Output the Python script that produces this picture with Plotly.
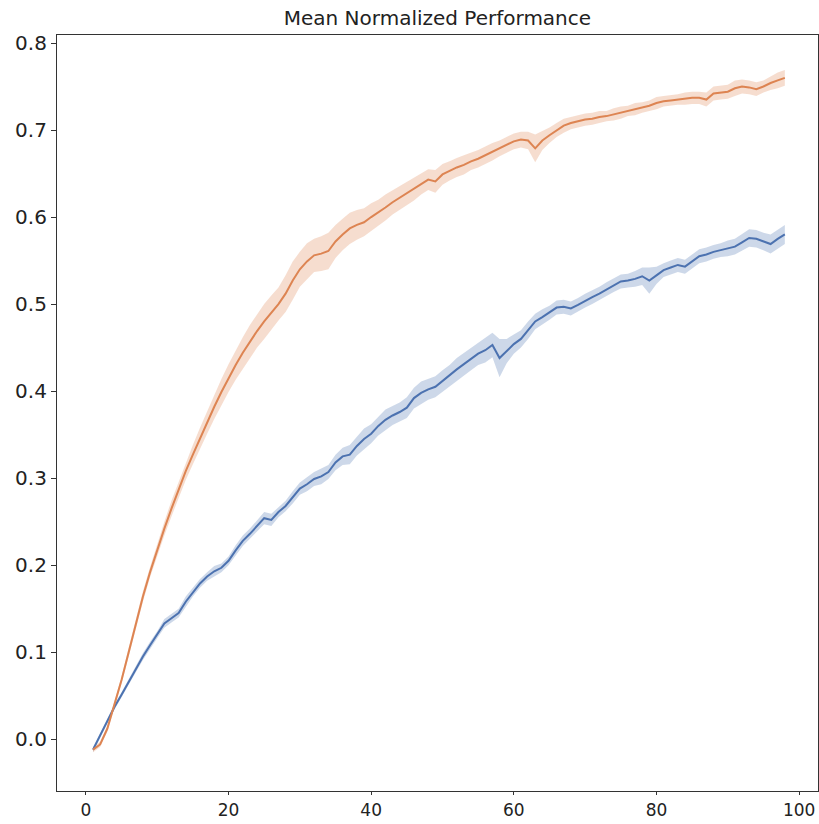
import plotly.graph_objects as go

# Training step (x axis)
steps = list(range(1, 99))

# Orange run: mean normalized performance and spread
orange_mean = [
    -0.012, -0.006, 0.012, 0.040, 0.068, 0.100, 0.133, 0.164, 0.192, 0.218,
    0.242, 0.265, 0.287, 0.308, 0.327, 0.346, 0.364, 0.382, 0.399, 0.415,
    0.430, 0.444, 0.457, 0.469, 0.480, 0.490, 0.500, 0.512, 0.527, 0.540,
    0.549, 0.556, 0.558, 0.561, 0.572, 0.580, 0.587, 0.591, 0.594, 0.600,
    0.605, 0.611, 0.617, 0.622, 0.627, 0.632, 0.638, 0.643, 0.641, 0.649,
    0.653, 0.657, 0.660, 0.664, 0.667, 0.671, 0.675, 0.679, 0.683, 0.687,
    0.689, 0.688, 0.679, 0.688, 0.694, 0.700, 0.705, 0.708, 0.710, 0.712,
    0.713, 0.715, 0.716, 0.718, 0.720, 0.722, 0.724, 0.726, 0.728, 0.731,
    0.733, 0.734, 0.735, 0.736, 0.737, 0.737, 0.735, 0.742, 0.743, 0.744,
    0.748, 0.750, 0.749, 0.747, 0.750, 0.754, 0.757, 0.760,
]
orange_spread = [
    0.003, 0.003, 0.003, 0.003, 0.004, 0.005, 0.005, 0.006, 0.006, 0.007,
    0.008, 0.009, 0.009, 0.010, 0.011, 0.012, 0.013, 0.014, 0.015, 0.016,
    0.017, 0.018, 0.019, 0.019, 0.020, 0.020, 0.019, 0.021, 0.022, 0.020,
    0.021, 0.019, 0.020, 0.021, 0.019, 0.018, 0.018, 0.017, 0.016, 0.016,
    0.015, 0.015, 0.014, 0.014, 0.013, 0.013, 0.012, 0.012, 0.013, 0.012,
    0.011, 0.011, 0.011, 0.010, 0.010, 0.010, 0.010, 0.009, 0.009, 0.009,
    0.009, 0.010, 0.016, 0.011, 0.009, 0.008, 0.008, 0.007, 0.007, 0.007,
    0.007, 0.007, 0.006, 0.007, 0.007, 0.006, 0.007, 0.006, 0.006, 0.007,
    0.006, 0.006, 0.006, 0.007, 0.007, 0.007, 0.008, 0.008, 0.008, 0.008,
    0.009, 0.008, 0.008, 0.008, 0.007, 0.008, 0.009, 0.009,
]

# Blue run: mean normalized performance and spread
blue_mean = [
    -0.012, 0.004, 0.021, 0.037, 0.051, 0.066, 0.080, 0.095, 0.108, 0.120,
    0.133, 0.139, 0.145, 0.158, 0.169, 0.179, 0.187, 0.193, 0.197, 0.205,
    0.217, 0.228, 0.236, 0.245, 0.254, 0.252, 0.261, 0.268, 0.278, 0.288,
    0.293, 0.299, 0.302, 0.307, 0.318, 0.325, 0.327, 0.337, 0.345, 0.351,
    0.360, 0.367, 0.372, 0.376, 0.381, 0.392, 0.398, 0.402, 0.405, 0.412,
    0.418, 0.425, 0.431, 0.437, 0.443, 0.447, 0.453, 0.438, 0.446, 0.454,
    0.460, 0.470, 0.480, 0.485, 0.490, 0.496, 0.497, 0.495, 0.499, 0.504,
    0.508, 0.512, 0.517, 0.522, 0.526, 0.527, 0.529, 0.532, 0.527, 0.533,
    0.539, 0.542, 0.545, 0.543, 0.549, 0.555, 0.557, 0.560, 0.562, 0.564,
    0.566, 0.571, 0.576, 0.575, 0.572, 0.569, 0.575, 0.580,
]
blue_spread = [
    0.003, 0.003, 0.003, 0.003, 0.003, 0.003, 0.003, 0.004, 0.004, 0.004,
    0.005, 0.005, 0.005, 0.006, 0.005, 0.005, 0.005, 0.006, 0.005, 0.005,
    0.006, 0.006, 0.006, 0.006, 0.007, 0.007, 0.006, 0.006, 0.007, 0.007,
    0.008, 0.008, 0.009, 0.008, 0.009, 0.010, 0.011, 0.011, 0.012, 0.011,
    0.011, 0.012, 0.011, 0.011, 0.012, 0.012, 0.013, 0.012, 0.012, 0.012,
    0.012, 0.013, 0.013, 0.013, 0.013, 0.014, 0.014, 0.022, 0.014, 0.011,
    0.010, 0.010, 0.009, 0.009, 0.008, 0.008, 0.008, 0.008, 0.008, 0.008,
    0.008, 0.008, 0.008, 0.008, 0.008, 0.008, 0.009, 0.010, 0.015, 0.010,
    0.008, 0.008, 0.008, 0.008, 0.008, 0.008, 0.008, 0.008, 0.008, 0.009,
    0.009, 0.010, 0.010, 0.010, 0.010, 0.011, 0.011, 0.011,
]

x_ticks = [0, 20, 40, 60, 80, 100]
y_ticks = [0.0, 0.1, 0.2, 0.3, 0.4, 0.5, 0.6, 0.7, 0.8]

series = [
    (blue_mean, blue_spread, "#4c72b0", "rgba(76,114,176,0.28)"),
    (orange_mean, orange_spread, "#dd8452", "rgba(221,132,82,0.28)"),
]

fig = go.Figure()
for mean, spread, line_color, fill_color in series:
    upper = [m + s for m, s in zip(mean, spread)]
    lower = [m - s for m, s in zip(mean, spread)]
    fig.add_trace(go.Scatter(
        x=steps + steps[::-1], y=upper + lower[::-1],
        fill="toself", fillcolor=fill_color, line=dict(width=0),
        mode="lines", hoverinfo="skip", showlegend=False,
    ))
for mean, spread, line_color, fill_color in series:
    fig.add_trace(go.Scatter(
        x=steps, y=mean, mode="lines",
        line=dict(color=line_color, width=2), showlegend=False,
    ))

axis_common = dict(
    showline=True, linecolor="#333333", linewidth=1.2, mirror=True,
    showgrid=False, zeroline=False, automargin=False,
    ticks="outside", tickwidth=1, tickcolor="#333333",
)

fig.update_layout(
    width=819, height=824,
    margin=dict(l=57, r=1, t=35, b=33),
    paper_bgcolor="white", plot_bgcolor="white",
    title=dict(
        text="Mean Normalized Performance",
        x=0.5341, xanchor="center", y=0.978, yanchor="middle",
        font=dict(family="DejaVu Sans", size=20, color="#222222"),
    ),
    xaxis=dict(range=[-4.05, 102.65], tickvals=x_ticks, ticklen=3,
               tickfont=dict(family="DejaVu Sans", size=17, color="#222222"),
               **axis_common),
    yaxis=dict(range=[-0.0595, 0.8092], tickvals=y_ticks, tickformat=".1f",
               ticklen=5,
               tickfont=dict(family="DejaVu Sans", size=20, color="#222222"),
               **axis_common),
)

fig.write_html("out.html")
